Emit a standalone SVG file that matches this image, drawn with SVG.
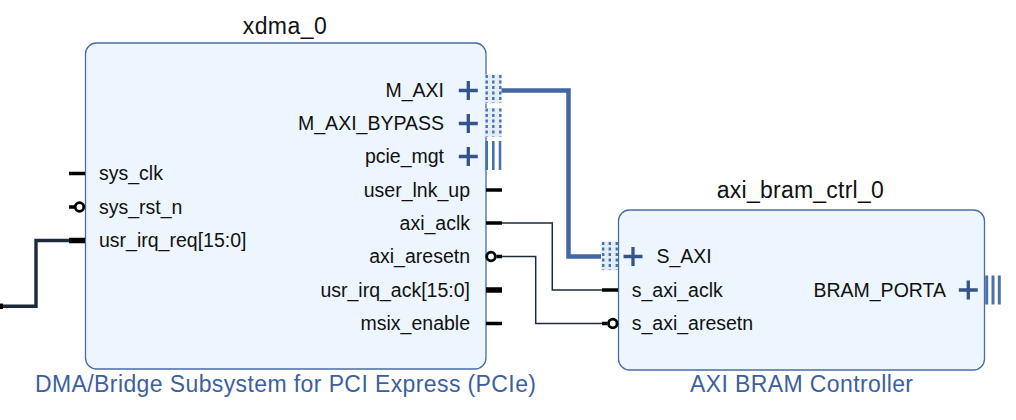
<svg xmlns="http://www.w3.org/2000/svg" width="1016" height="420" viewBox="0 0 1016 420">
<defs>
<style>
.blk{fill:#edf5fe;stroke:#4a6ba8;stroke-width:1.3}
.lbl{font-family:"Liberation Sans",Arial,sans-serif;font-size:19.5px;fill:#111}
.ttl{font-family:"Liberation Sans",Arial,sans-serif;font-size:23px;fill:#111}
.sub{font-family:"Liberation Sans",Arial,sans-serif;font-size:23px;fill:#3d5f9e}
.pin{stroke:#000;stroke-width:3.5;fill:none}
.bus{stroke:#000;stroke-width:5.5;fill:none}
.neg{fill:#fff;stroke:#000;stroke-width:2.8}
.plus{stroke:#34548a;stroke-width:3.3;fill:none}
.ifbg{fill:#e3ecf7}
.dot{stroke:#4a72a8;stroke-width:2.4;stroke-dasharray:3 2.5;fill:none}
.sol{stroke:#4a72a8;stroke-width:2.6;fill:none}
.w{stroke:#1c2a3a;stroke-width:1.5;fill:none}
.wb{stroke:#1c2a3a;stroke-width:3.4;fill:none}
.wi{stroke:#4466a5;stroke-width:4.5;fill:none}
</style>
<g id="plus"><path class="plus" d="M-9.5 0H9.5M0 -9.5V9.5"/></g>
<g id="ifdot"><rect class="ifbg" x="-1.5" y="-14.5" width="17" height="29"/><path class="dot" d="M0.7 -14V14M7.3 -14V14M14.3 -14V14"/></g>
<g id="ifsol"><path class="sol" d="M0.7 -14.5V14.5M7.3 -14.5V14.5M14 -14.5V14.5"/></g>
</defs>
<rect width="1016" height="420" fill="#fff"/>

<g id="connectors">
<path class="wb" d="M0 306.3H36V240.5H69"/>
<path class="bus" d="M0 306.3H3"/>
<path class="wi" d="M500 90.5H568.5V256.5H603"/>
<path class="w" d="M502 223H552.3V290H602"/>
<path class="w" d="M502 256.5H535.7V323.5H607"/>
</g>

<g id="xdma_0">
<text class="ttl" x="284.7" y="34" text-anchor="middle" textLength="84" lengthAdjust="spacing">xdma_0</text>
<rect class="blk" x="85.5" y="43" width="400.5" height="326" rx="11"/>
<text class="sub" x="285.5" y="391.7" text-anchor="middle" textLength="501" lengthAdjust="spacing">DMA/Bridge Subsystem for PCI Express (PCIe)</text>
<!-- left ports -->
<path class="pin" d="M69 173.5H85"/>
<text class="lbl" x="99" y="180">sys_clk</text>
<path class="pin" d="M69 207H74"/>
<circle class="neg" cx="79.5" cy="207" r="4.3"/>
<text class="lbl" x="99" y="213.5">sys_rst_n</text>
<path class="bus" d="M69 240.5H85"/>
<text class="lbl" x="99" y="247">usr_irq_req[15:0]</text>
<!-- right ports -->
<text class="lbl" x="444" y="97" text-anchor="end">M_AXI</text>
<use href="#plus" x="468.3" y="90.5"/>
<use href="#ifdot" x="486" y="89"/>
<text class="lbl" x="444" y="130" text-anchor="end">M_AXI_BYPASS</text>
<use href="#plus" x="468.3" y="123.5"/>
<use href="#ifdot" x="486" y="122.5"/>
<text class="lbl" x="444" y="163" text-anchor="end">pcie_mgt</text>
<use href="#plus" x="468.3" y="156.5"/>
<use href="#ifsol" x="486" y="155.5"/>
<text class="lbl" x="470" y="196.5" text-anchor="end">user_lnk_up</text>
<path class="pin" d="M486 190H502"/>
<text class="lbl" x="470" y="229.5" text-anchor="end">axi_aclk</text>
<path class="pin" d="M486 223H502"/>
<text class="lbl" x="470" y="263" text-anchor="end">axi_aresetn</text>
<circle class="neg" cx="491" cy="256.5" r="4.3"/>
<path class="pin" d="M496.5 256.5H502"/>
<text class="lbl" x="470" y="296.5" text-anchor="end">usr_irq_ack[15:0]</text>
<path class="bus" d="M486 290H502"/>
<text class="lbl" x="470" y="330" text-anchor="end">msix_enable</text>
<path class="pin" d="M486 323.5H502"/>
</g>

<g id="axi_bram_ctrl_0">
<text class="ttl" x="800.3" y="198.3" text-anchor="middle" textLength="167" lengthAdjust="spacing">axi_bram_ctrl_0</text>
<rect class="blk" x="618.5" y="210" width="366" height="160" rx="11"/>
<text class="sub" x="801.5" y="392" text-anchor="middle" textLength="223" lengthAdjust="spacing">AXI BRAM Controller</text>
<use href="#ifdot" x="602.5" y="256"/>
<use href="#plus" x="633" y="256.5"/>
<text class="lbl" x="656.5" y="263">S_AXI</text>
<path class="pin" d="M602 290H618"/>
<text class="lbl" x="631.7" y="296.5">s_axi_aclk</text>
<path class="pin" d="M602 323.5H607.5"/>
<circle class="neg" cx="612.8" cy="323.5" r="4.3"/>
<text class="lbl" x="631.7" y="330">s_axi_aresetn</text>
<text class="lbl" x="946" y="296.5" text-anchor="end">BRAM_PORTA</text>
<use href="#plus" x="968.3" y="290"/>
<path class="sol" d="M986.7 275.5V304.5M993 275.5V304.5M999.3 275.5V304.5" style="stroke-width:3"/>
</g>
</svg>
